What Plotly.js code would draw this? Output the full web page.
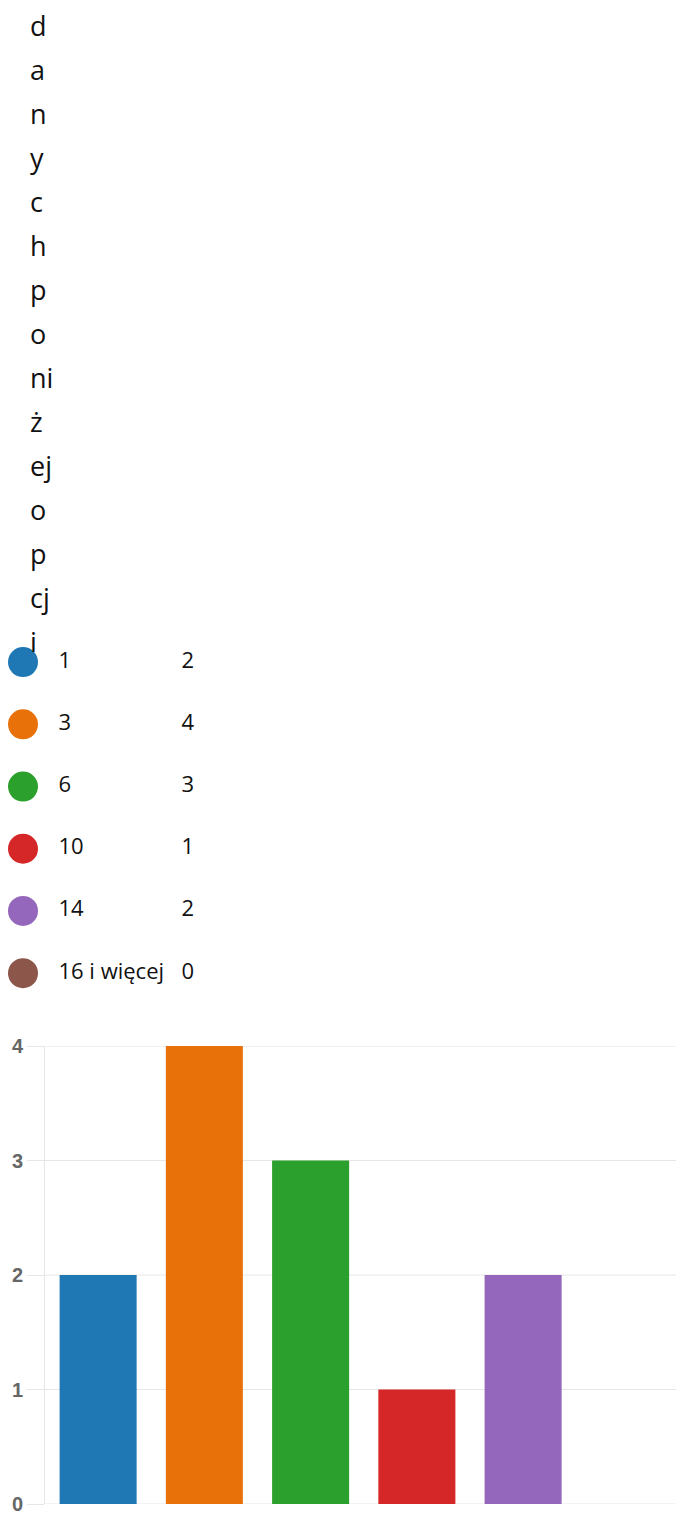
<!DOCTYPE html>
<html>
<head>
<meta charset="utf-8">
<script src="https://cdn.plot.ly/plotly-3.0.1.min.js"></script>
<style>html,body{margin:0;padding:0;background:#fff;}#chart{width:676px;height:1516px;}</style>
</head>
<body>
<div id="chart"></div>
<script>
// ---- data ----
var titleLines = ["d","a","n","y","c","h","p","o","ni","ż","ej","o","p","cj","i"];
var categories = ["1","3","6","10","14","16 i więcej"];
var counts = [2,4,3,1,2,0];
var colors = ["#1f77b4","#e8710a","#2ca02c","#d62728","#9467bd","#8c564b"];
var yTicks = [0,1,2,3,4];

// ---- layout helpers ----
var W = 676, H = 1516;
function py(px){ return 1 - px / H; }

var annotations = titleLines.map(function(t, i){
  return {
    text: t, xref: 'paper', yref: 'paper',
    x: 28 / W, y: py(26 + 43.93 * i),
    xanchor: 'left', yanchor: 'middle', showarrow: false,
    font: {family: 'Open Sans, Noto Sans, sans-serif', size: 27, color: '#111'}
  };
});

var shapes = yTicks.map(function(v){
  return {
    type: 'line', xref: 'paper', yref: 'y', layer: 'below',
    x0: 45 / W, x1: 1, y0: v, y1: v,
    line: {color: '#e6e6e6', width: 1}
  };
});

var traces = [];
// bars
traces.push({
  type: 'bar', x: categories, y: counts,
  marker: {color: colors, line: {width: 0}},
  xaxis: 'x', yaxis: 'y', hoverinfo: 'skip'
});
// legend circles
traces.push({
  type: 'scatter', mode: 'markers', x: categories.map(function(){return 23;}), y: categories,
  marker: {size: 30, color: colors, line: {width: 0}},
  xaxis: 'x2', yaxis: 'y2', hoverinfo: 'skip', cliponaxis: false
});
// legend labels
traces.push({
  type: 'scatter', mode: 'text', x: categories.map(function(){return 58.5;}), y: categories,
  text: categories, textposition: 'middle right',
  textfont: {family: 'Open Sans, Noto Sans, sans-serif', size: 22, color: '#111'},
  xaxis: 'x2', yaxis: 'y2', hoverinfo: 'skip', cliponaxis: false
});
// legend values
traces.push({
  type: 'scatter', mode: 'text', x: categories.map(function(){return 181.5;}), y: categories,
  text: counts.map(String), textposition: 'middle right',
  textfont: {family: 'Open Sans, Noto Sans, sans-serif', size: 22, color: '#111'},
  xaxis: 'x2', yaxis: 'y2', hoverinfo: 'skip', cliponaxis: false
});

var layout = {
  width: W, height: H,
  margin: {l: 0, r: 0, t: 0, b: 0, pad: 0},
  paper_bgcolor: '#fff', plot_bgcolor: 'rgba(0,0,0,0)',
  showlegend: false,
  bargap: 0.275,
  xaxis: {
    domain: [45 / W, 1], type: 'category', categoryarray: categories,
    range: [-0.5, 5.439],
    showticklabels: false, showgrid: false, zeroline: false, showline: false, ticks: ''
  },
  yaxis: {
    domain: [py(1504), py(1046)], range: [0, 4],
    tickvals: yTicks, ticktext: yTicks.map(String),
    showgrid: false,
    zeroline: false, showline: true, linecolor: '#e6e6e6', linewidth: 1,
    ticks: 'outside', ticklen: 17, tickcolor: '#e6e6e6', tickwidth: 1,
    tickfont: {family: 'Liberation Sans, Arial, sans-serif', size: 20, color: '#666', weight: 'bold'}
  },
  xaxis2: {
    domain: [0, 1], range: [0, W], anchor: 'y2',
    visible: false, fixedrange: true
  },
  yaxis2: {
    domain: [py(1004.3), py(631)], type: 'category', categoryarray: categories,
    range: [categories.length - 0.5, -0.5], anchor: 'x2',
    visible: false, fixedrange: true
  },
  shapes: shapes,
  annotations: annotations
};

Plotly.newPlot('chart', traces, layout, {staticPlot: true, displayModeBar: false});
</script>
</body>
</html>
